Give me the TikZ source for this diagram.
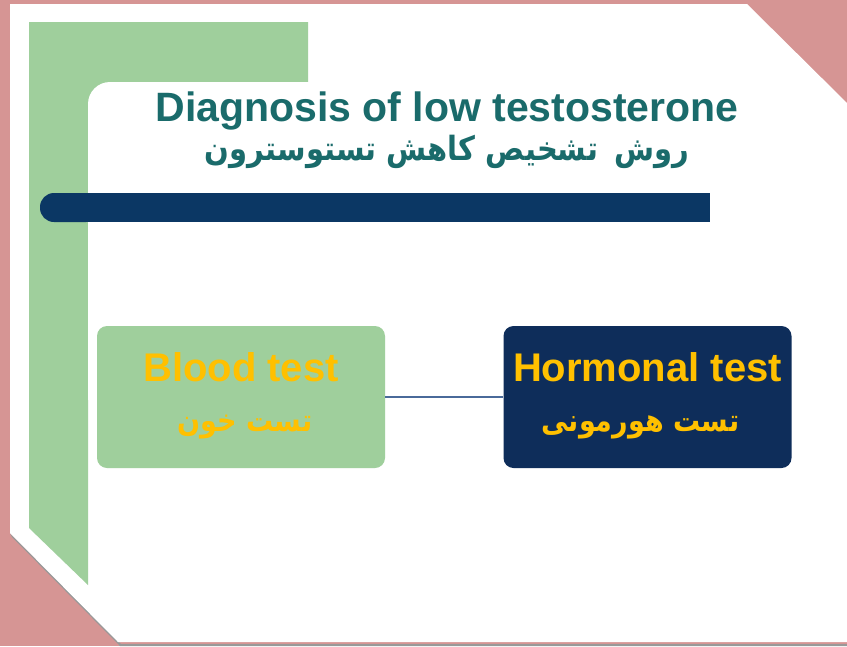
\documentclass[tikz,border=0pt]{standalone}
\usepackage{fontspec}
\setmainfont{Liberation Sans}
\newfontfamily\arabicfont[Script=Arabic]{DejaVu Sans}
\TeXXeTstate=1
\definecolor{pinkbg}{HTML}{D69594}
\definecolor{pagegreen}{HTML}{9FCF9C}
\definecolor{barnavy}{HTML}{0B3764}
\definecolor{boxnavy}{HTML}{0E2D5A}
\definecolor{titleteal}{HTML}{1A6B6B}
\definecolor{gold}{HTML}{FFC000}
\definecolor{linkblue}{HTML}{4A6A9A}
\begin{document}
\begin{tikzpicture}[x=1pt,y=-1pt,
  titlestyle/.style={text=titleteal, inner sep=0pt, anchor=base, font=\fontsize{41}{46}\bfseries\selectfont},
  subtitlestyle/.style={text=titleteal, inner sep=0pt, anchor=base, font=\fontsize{29}{36}\arabicfont\bfseries\selectfont},
  boxstyle/.style={rounded corners=10pt, inner sep=0pt, minimum width=288pt, minimum height=142pt},
  entext/.style={text=gold, inner sep=0pt, anchor=base, font=\fontsize{40}{46}\bfseries\selectfont},
  fatext/.style={text=gold, inner sep=0pt, anchor=base, font=\fontsize{27}{32}\arabicfont\bfseries\selectfont},
  linkstyle/.style={draw=linkblue, line width=1.2pt}]
\useasboundingbox (0,0) rectangle (847,646);
\fill[pinkbg] (0,0) rectangle (847,646);
% page shadow
\fill[black!40] (12,537) -- (120,646) -- (847,646) -- (847,644) -- (121,644) -- (10,533) -- cycle;
% white page
\fill[white] (10,4) -- (747,4) -- (847,103) -- (847,642) -- (118,642) -- (10,533) -- cycle;
% green L band
\fill[pagegreen] (29,22) -- (308,22) -- (308,130) -- (130,130) -- (130,300) -- (88,300) -- (88,585) -- (29,528) -- cycle;
\fill[white] (88,400) -- (88,104) arc[start angle=180, end angle=270, radius=22] -- (330,82) -- (330,400) -- cycle;
% dark bar
\fill[barnavy, rounded corners=14pt] (40,193) rectangle (100,222);
\fill[barnavy] (70,193) rectangle (710,222);
% titles
\node[titlestyle] (title) at (447,121) {Diagnosis of low testosterone};
\node[subtitlestyle] (subtitle) at (447,160) {\scalebox{1}[1.15]{\beginR روش\hspace{0.55em}تشخیص کاهش تستوسترون\endR}};
% boxes
\node[boxstyle, fill=pagegreen] (blood) at (241,397) {};
\node[boxstyle, fill=boxnavy] (hormone) at (647.5,397) {};
\draw[linkstyle] (blood.east) -- (hormone.west);
\node[entext] (bloodEn) at ([yshift=16pt]blood.center) {Blood test};
\node[fatext] (bloodFa) at ([xshift=4pt, yshift=-34pt]blood.center) {\scalebox{1}[1.15]{\beginR تست خون\endR}};
\node[entext] (hormoneEn) at ([yshift=16pt]hormone.center) {Hormonal test};
\node[fatext] (hormoneFa) at ([xshift=-7pt, yshift=-34pt]hormone.center) {\scalebox{1}[1.15]{\beginR تست هورمونی\endR}};
\end{tikzpicture}
\end{document}
